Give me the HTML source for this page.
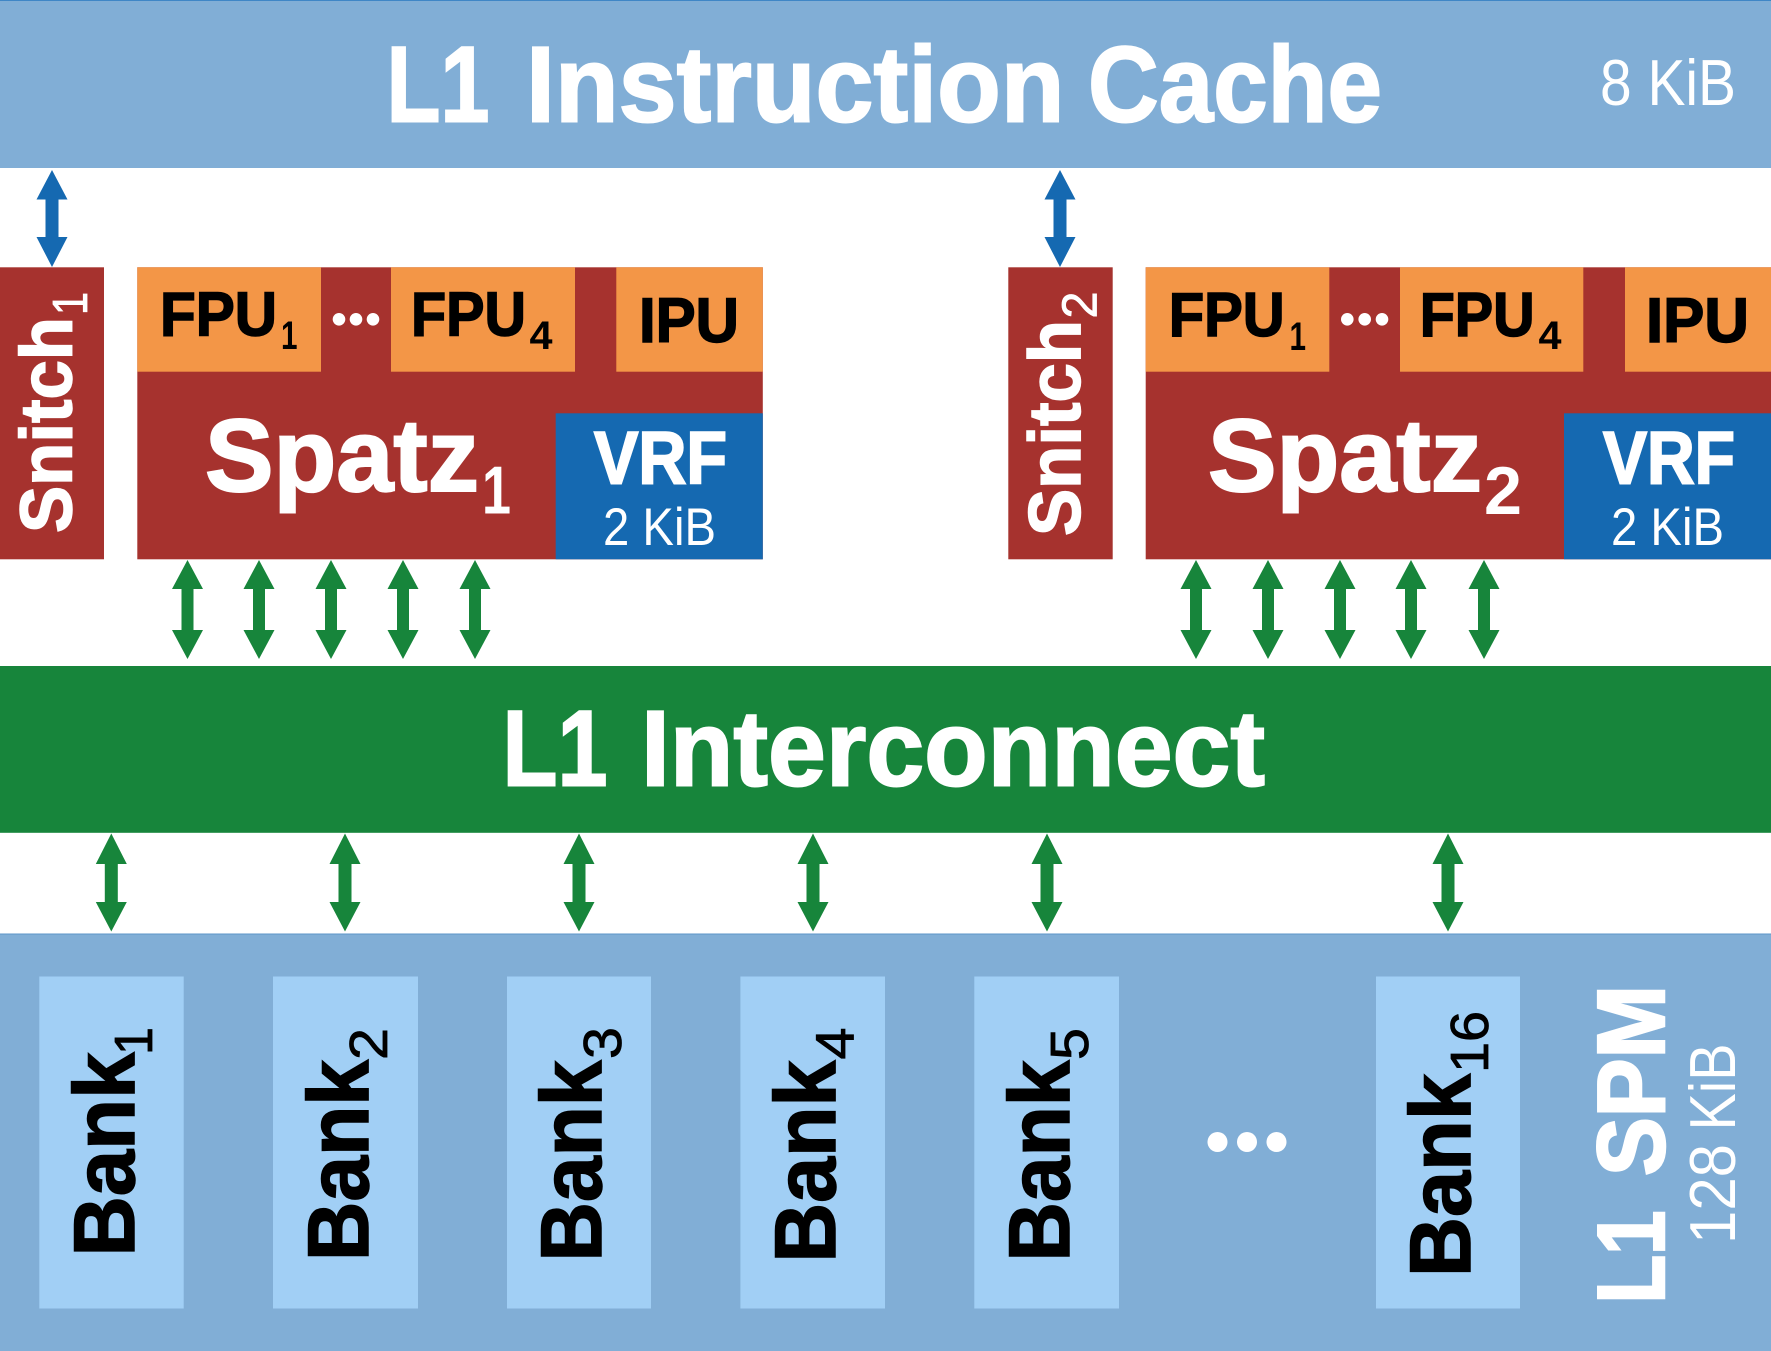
<!DOCTYPE html>
<html><head><meta charset="utf-8"><style>
html,body{margin:0;padding:0;background:#fff}
svg{display:block}
text{font-family:"Liberation Sans",sans-serif;font-weight:700}
.r{font-weight:400}
.w{fill:#fff;stroke:#fff}
.k{fill:#000;stroke:#000}
.s0{stroke-width:0}
.s1{stroke-width:.8px}
.s2{stroke-width:1.5px}
.s3{stroke-width:2px}
.s4{stroke-width:2.500px}
</style></head><body>
<svg width="1771" height="1351" viewBox="0 0 1771 1351" xmlns="http://www.w3.org/2000/svg">
<defs>
<polygon id="a" points="0,0 15.500,29.500 6.500,29.500 6.500,67 15.500,67 0,97 -15.500,67 -6.500,67 -6.500,29.500 -15.500,29.500"/>
<polygon id="b" points="0,0 15.500,29 6,29 6,70 15.500,70 0,99 -15.500,70 -6,70 -6,29 -15.500,29"/>
<polygon id="c" points="0,0 15.500,30.500 6.500,30.500 6.500,68.500 15.500,68.500 0,98 -15.500,68.500 -6.500,68.500 -6.500,30.500 -15.500,30.500"/>
</defs>
<rect width="1771" height="1351" fill="#fff"/>
<!-- top -->
<rect x="0" y="0" width="1771" height="168" fill="#81aed6"/>
<rect x="0" y="0" width="1771" height="1" fill="#3f86c6"/>
<text class="w s3" x="386.500" y="121.700" font-size="108" textLength="103" lengthAdjust="spacingAndGlyphs">L1</text>
<text class="w s3" x="526" y="121.700" font-size="108" textLength="538.500" lengthAdjust="spacingAndGlyphs">Instruction</text>
<text class="w s3" x="1088" y="121.700" font-size="108" textLength="294" lengthAdjust="spacingAndGlyphs">Cache</text>
<text class="w r s0" x="1600" y="105" font-size="65" textLength="136" lengthAdjust="spacingAndGlyphs">8 KiB</text>
<!-- blue arrows -->
<use href="#a" x="52" y="170" fill="#1569b1"/>
<use href="#a" x="1060" y="170" fill="#1569b1"/>
<!-- Snitch 1 -->
<rect x="0" y="267.300" width="104" height="292" fill="#a6322e"/>
<text class="w s2" transform="translate(71.500,533) rotate(-90)" font-size="73" textLength="216" lengthAdjust="spacingAndGlyphs">Snitch</text>
<text class="w r s1" transform="translate(87,315) rotate(-90)" font-size="49" textLength="23" lengthAdjust="spacingAndGlyphs">1</text>
<!-- Spatz 1 -->
<g>
<rect x="137.300" y="267.300" width="625.500" height="292" fill="#a6322e"/>
<rect x="137.300" y="267.300" width="183.700" height="104.400" fill="#f39647"/>
<rect x="391" y="267.300" width="184" height="104.400" fill="#f39647"/>
<rect x="616.300" y="267.300" width="146.500" height="104.400" fill="#f39647"/>
<rect x="555.700" y="413.300" width="207.100" height="146" fill="#1569b1"/>
<text class="k s2" x="160" y="335.700" font-size="62.500" textLength="117" lengthAdjust="spacingAndGlyphs">FPU</text>
<text class="k s0" x="281" y="349" font-size="40" textLength="16.500" lengthAdjust="spacingAndGlyphs">1</text>
<circle cx="339" cy="319.300" r="6.300" fill="#fff"/><circle cx="356" cy="319.300" r="6.300" fill="#fff"/><circle cx="373" cy="319.300" r="6.300" fill="#fff"/>
<text class="k s2" x="411" y="335.700" font-size="62.500" textLength="115" lengthAdjust="spacingAndGlyphs">FPU</text>
<text class="k s0" x="529.500" y="349" font-size="40" textLength="23" lengthAdjust="spacingAndGlyphs">4</text>
<text class="k s2" x="639" y="342" font-size="63" textLength="100" lengthAdjust="spacingAndGlyphs">IPU</text>
<text class="w s3" x="205" y="491" font-size="103" textLength="274" lengthAdjust="spacingAndGlyphs">Spatz</text>
<text class="w s0" x="482" y="513.500" font-size="68" textLength="29" lengthAdjust="spacingAndGlyphs">1</text>
<text class="w s3" x="594" y="483.500" font-size="74" textLength="133" lengthAdjust="spacingAndGlyphs">VRF</text>
<text class="w r s0" x="603" y="545" font-size="53" textLength="113" lengthAdjust="spacingAndGlyphs">2 KiB</text>
</g>
<!-- Snitch 2 -->
<rect x="1008.300" y="267.300" width="104.400" height="292" fill="#a6322e"/>
<text class="w s2" transform="translate(1080.200,536) rotate(-90)" font-size="73" textLength="216" lengthAdjust="spacingAndGlyphs">Snitch</text>
<text class="w r s1" transform="translate(1096.700,318.500) rotate(-90)" font-size="49" textLength="27" lengthAdjust="spacingAndGlyphs">2</text>
<!-- Spatz 2 -->
<g>
<rect x="1145.700" y="267.300" width="625.300" height="292" fill="#a6322e"/>
<rect x="1145.700" y="267.300" width="183.600" height="104.400" fill="#f39647"/>
<rect x="1400" y="267.300" width="183.300" height="104.400" fill="#f39647"/>
<rect x="1625" y="267.300" width="146" height="104.400" fill="#f39647"/>
<rect x="1564" y="413.300" width="207" height="146" fill="#1569b1"/>
<text class="k s2" x="1168.700" y="336" font-size="62.500" textLength="116" lengthAdjust="spacingAndGlyphs">FPU</text>
<text class="k s0" x="1289.500" y="350" font-size="40" textLength="16.500" lengthAdjust="spacingAndGlyphs">1</text>
<circle cx="1347.300" cy="319.300" r="6.300" fill="#fff"/><circle cx="1364.700" cy="319.300" r="6.300" fill="#fff"/><circle cx="1382" cy="319.300" r="6.300" fill="#fff"/>
<text class="k s2" x="1419.700" y="336" font-size="62.500" textLength="115" lengthAdjust="spacingAndGlyphs">FPU</text>
<text class="k s0" x="1538.500" y="349" font-size="40" textLength="23" lengthAdjust="spacingAndGlyphs">4</text>
<text class="k s2" x="1646" y="342" font-size="63" textLength="103" lengthAdjust="spacingAndGlyphs">IPU</text>
<text class="w s3" x="1208" y="491" font-size="103" textLength="274" lengthAdjust="spacingAndGlyphs">Spatz</text>
<text class="w s0" x="1484" y="514" font-size="68" textLength="38" lengthAdjust="spacingAndGlyphs">2</text>
<text class="w s3" x="1603" y="483.500" font-size="74" textLength="132" lengthAdjust="spacingAndGlyphs">VRF</text>
<text class="w r s0" x="1611" y="545" font-size="53" textLength="113" lengthAdjust="spacingAndGlyphs">2 KiB</text>
</g>
<!-- green arrows -->
<g fill="#17853b">
<use href="#b" x="187.500" y="560"/><use href="#b" x="259" y="560"/><use href="#b" x="331" y="560"/><use href="#b" x="403" y="560"/><use href="#b" x="475" y="560"/>
<use href="#b" x="1196" y="560"/><use href="#b" x="1268" y="560"/><use href="#b" x="1340" y="560"/><use href="#b" x="1411" y="560"/><use href="#b" x="1484" y="560"/>
<use href="#c" x="111.300" y="833.500"/><use href="#c" x="345" y="833.500"/><use href="#c" x="579" y="833.500"/><use href="#c" x="813" y="833.500"/><use href="#c" x="1047" y="833.500"/><use href="#c" x="1448" y="833.500"/>
</g>
<!-- interconnect -->
<rect x="0" y="666" width="1771" height="166.800" fill="#17853b"/>
<text class="w s3" x="502.500" y="785.700" font-size="108" textLength="105" lengthAdjust="spacingAndGlyphs">L1</text>
<text class="w s3" x="641" y="785.700" font-size="108" textLength="624" lengthAdjust="spacingAndGlyphs">Interconnect</text>
<!-- SPM -->
<rect x="0" y="934" width="1771" height="417" fill="#81aed6"/>
<rect x="0" y="933.500" width="1771" height="1" fill="#5d95c8"/>
<g fill="#a1cff5">
<rect x="39.300" y="976.500" width="144.400" height="332"/>
<rect x="273" y="976.500" width="145" height="332"/>
<rect x="507" y="976.500" width="144" height="332"/>
<rect x="740.400" y="976.500" width="144.600" height="332"/>
<rect x="974.300" y="976.500" width="144.700" height="332"/>
<rect x="1376" y="976.500" width="144" height="332"/>
</g>
<text class="k s2" transform="translate(134,1256.500) rotate(-90)" font-size="86" textLength="204" lengthAdjust="spacingAndGlyphs">Bank</text>
<text class="k r s1" transform="translate(152,1055) rotate(-90)" font-size="54" textLength="28" lengthAdjust="spacingAndGlyphs">1</text>
<text class="k s2" transform="translate(368,1261) rotate(-90)" font-size="86" textLength="201" lengthAdjust="spacingAndGlyphs">Bank</text>
<text class="k r s1" transform="translate(387,1060) rotate(-90)" font-size="54" textLength="32" lengthAdjust="spacingAndGlyphs">2</text>
<text class="k s2" transform="translate(601,1261.500) rotate(-90)" font-size="86" textLength="201" lengthAdjust="spacingAndGlyphs">Bank</text>
<text class="k r s1" transform="translate(620.800,1059) rotate(-90)" font-size="54" textLength="32" lengthAdjust="spacingAndGlyphs">3</text>
<text class="k s2" transform="translate(835,1262.500) rotate(-90)" font-size="86" textLength="202" lengthAdjust="spacingAndGlyphs">Bank</text>
<text class="k r s1" transform="translate(853.500,1059.500) rotate(-90)" font-size="54" textLength="32" lengthAdjust="spacingAndGlyphs">4</text>
<text class="k s2" transform="translate(1069,1261.500) rotate(-90)" font-size="86" textLength="201" lengthAdjust="spacingAndGlyphs">Bank</text>
<text class="k r s1" transform="translate(1088,1060) rotate(-90)" font-size="54" textLength="32" lengthAdjust="spacingAndGlyphs">5</text>
<text class="k s2" transform="translate(1470,1277) rotate(-90)" font-size="86" textLength="203" lengthAdjust="spacingAndGlyphs">Bank</text>
<text class="k r s1" transform="translate(1488,1073) rotate(-90)" font-size="54" textLength="62" lengthAdjust="spacingAndGlyphs">16</text>
<circle cx="1217.500" cy="1142" r="10" fill="#fff"/><circle cx="1247" cy="1142" r="10" fill="#fff"/><circle cx="1276.500" cy="1142" r="10" fill="#fff"/>
<text class="w s4" transform="translate(1664,1303.500) rotate(-90)" font-size="96" textLength="93" lengthAdjust="spacingAndGlyphs">L1</text>
<text class="w s4" transform="translate(1664,1176) rotate(-90)" font-size="96" textLength="191" lengthAdjust="spacingAndGlyphs">SPM</text>
<text class="w r s0" transform="translate(1735,1244) rotate(-90)" font-size="65" textLength="100" lengthAdjust="spacingAndGlyphs">128</text>
<text class="w r s0" transform="translate(1735,1130.500) rotate(-90)" font-size="65" textLength="87" lengthAdjust="spacingAndGlyphs">KiB</text>
</svg>
</body></html>
